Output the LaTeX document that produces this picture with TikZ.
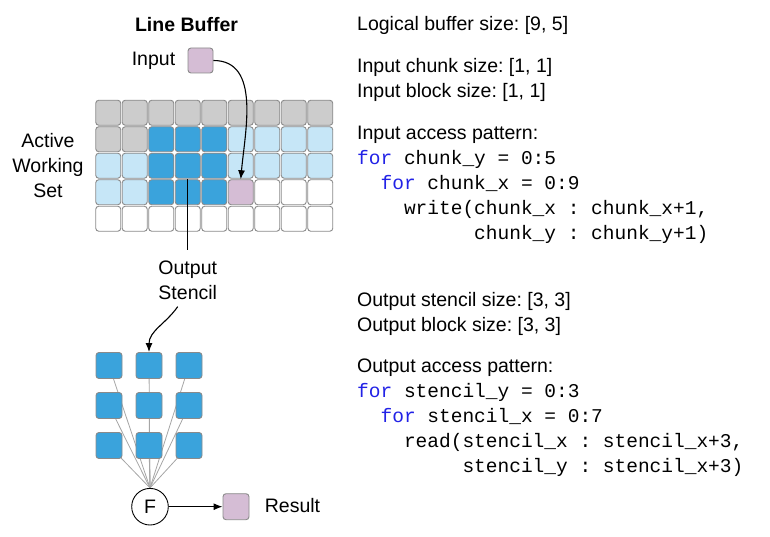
\documentclass[tikz,border=0pt]{standalone}
\usepackage{fontspec}
\setmainfont{Liberation Sans}
\newfontfamily\codefont{Liberation Mono}
\usetikzlibrary{arrows.meta,backgrounds,positioning}
\definecolor{bufg}{HTML}{CCCCCC}
\definecolor{bufd}{HTML}{3AA3DC}
\definecolor{bufl}{HTML}{C6E6F7}
\definecolor{bufp}{HTML}{D5BDD5}
\definecolor{bufw}{HTML}{FFFFFF}
\definecolor{cellborder}{HTML}{8A8A8A}
\definecolor{kwblue}{HTML}{2222E6}
\newcommand{\kw}[1]{\textcolor{kwblue}{#1}}
\frenchspacing
\begin{document}
\begin{tikzpicture}
  [x=1pt,y=-1pt,
   cell/.style={draw=cellborder,line width=0.9pt,rounded corners=3pt,minimum size=25pt,inner sep=0pt},
   txt/.style={font=\fontsize{19.5}{25}\selectfont,inner sep=2pt},
   info/.style={txt,inner sep=0pt,anchor=base west,align=left},
   spoke/.style={draw=black!35,line width=0.8pt},
   >={Latex[length=9pt,width=7pt]}]
  \useasboundingbox (0,0) rectangle (770,537);
  % line buffer
  \node[txt] (title) at (186.5,24.2) {\bfseries Line Buffer};
  \foreach \row [count=\j from 0] in {{g,g,g,g,g,g,g,g,g},{g,g,d,d,d,l,l,l,l},{l,l,d,d,d,l,l,l,l},{l,l,d,d,d,p,w,w,w},{w,w,w,w,w,w,w,w,w}}
    \foreach \c [count=\i from 0] in \row
      \node[cell,fill=buf\c] (c-\i-\j) at ({108.25+26.5*\i},{112.75+26.5*\j}) {};
  \node[cell,fill=bufp] (inbox) at (200.5,60.5) {};
  \node[txt] (inlbl) at (153.5,60.7) {Input};
  \node[txt,align=center] (ws) at (48,166) {Active\\Working\\Set};
  \node[txt,align=center] (outlbl) at (187.75,280) {Output\\Stencil};
  \draw[->,line width=1.1pt] (inbox.east) to[out=0,in=85] (c-5-3.north);
  \draw[line width=1.1pt,shorten >=8pt] (c-3-3.north) -- (outlbl.north);
  % output stencil
  \foreach \i in {0,1,2}
    \foreach \j in {0,1,2}
      \node[cell,fill=bufd,minimum size=26pt] (s-\i-\j) at ({109+40*\i},{365.5+40*\j}) {};
  \node[txt,circle,draw,line width=0.9pt,minimum size=36.6pt,inner sep=0pt] (f) at (150,506.7) {F};
  \node[cell,fill=bufp,minimum size=26pt] (res) at (236,506.7) {};
  \node[txt] (reslbl) at (292.5,505.8) {Result};
  \begin{scope}[on background layer]
    \foreach \i in {0,1,2}
      \foreach \j in {0,1,2}
        \draw[spoke] (s-\i-\j.center) -- (f.north);
  \end{scope}
  \draw[->,line width=1.1pt] ([xshift=-10pt,yshift=-5pt]outlbl.south) to[out=-125,in=90] (s-1-0.north);
  \draw[->,line width=1.1pt] (f) -- (res);
  % sizes and access patterns (base = last line)
  \node[info] (bufsize) at (357,31) {Logical buffer size: [9, 5]};
  \node[info] (insize) at (357,97.7) {Input chunk size: [1, 1]\\Input block size: [1, 1]};
  \node[info] (inpat) at (357,239.3) {Input access pattern:\\
    \codefont\kw{for} chunk\_y = 0:5\\
    \codefont~~\kw{for} chunk\_x = 0:9\\
    \codefont~~~~write(chunk\_x : chunk\_x+1,\\
    \codefont~~~~~~~~~~chunk\_y : chunk\_y+1)};
  \node[info] (outsize) at (357,331.5) {Output stencil size: [3, 3]\\Output block size: [3, 3]};
  \node[info] (outpat) at (357,472.3) {Output access pattern:\\
    \codefont\kw{for} stencil\_y = 0:3\\
    \codefont~~\kw{for} stencil\_x = 0:7\\
    \codefont~~~~read(stencil\_x : stencil\_x+3,\\
    \codefont~~~~~~~~~stencil\_y : stencil\_x+3)};
\end{tikzpicture}
\end{document}
